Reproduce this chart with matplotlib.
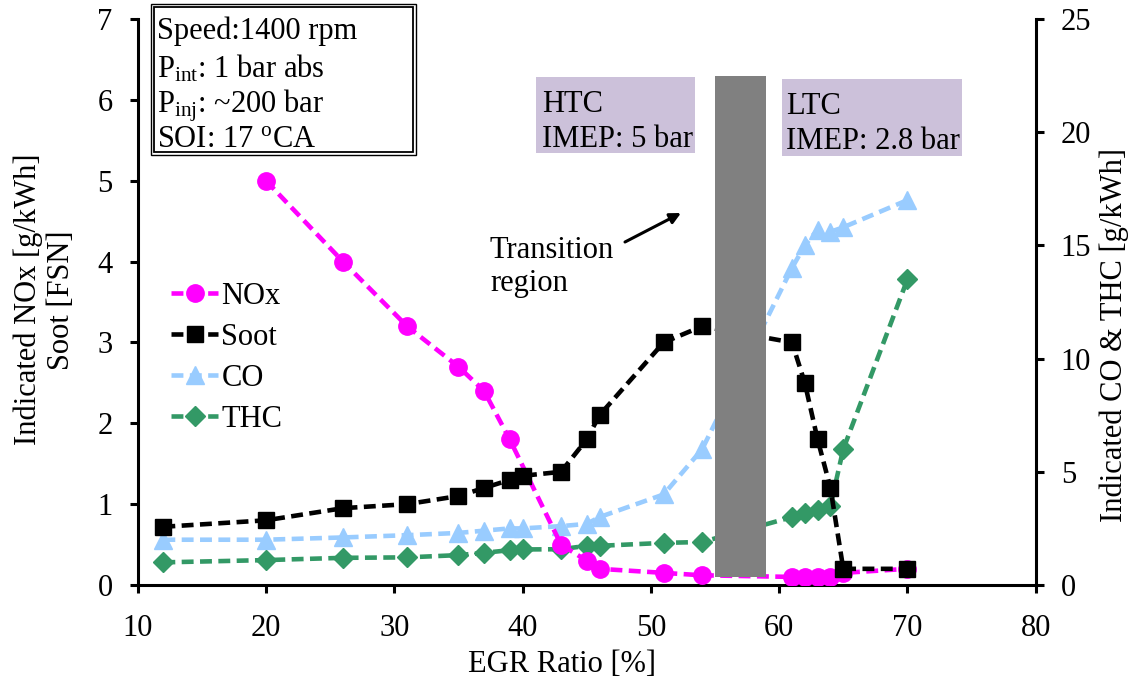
import matplotlib
matplotlib.use("Agg")
import matplotlib.pyplot as plt
from matplotlib.patches import Rectangle

plt.rcParams['font.family'] = ['Liberation Serif', 'DejaVu Serif']
plt.rcParams['mathtext.fontset'] = 'custom'
plt.rcParams['mathtext.rm'] = 'Liberation Serif'
plt.rcParams['mathtext.it'] = 'Liberation Serif:italic'
plt.rcParams['mathtext.bf'] = 'Liberation Serif:bold'

# ---------------- data ----------------
nox_x = [20, 26, 31, 35, 37, 39, 43, 45, 46, 51, 54, 61, 62, 63, 64, 65, 70]
nox_y = [5.0, 4.0, 3.2, 2.7, 2.4, 1.8, 0.5, 0.3, 0.2, 0.15, 0.12, 0.1, 0.1, 0.1, 0.1, 0.15, 0.2]

soot_x = [12, 20, 26, 31, 35, 37, 39, 40, 43, 45, 46, 51, 54, 61, 62, 63, 64, 65, 70]
soot_y = [0.72, 0.8, 0.95, 1.0, 1.1, 1.2, 1.3, 1.35, 1.4, 1.8, 2.1, 3.0, 3.2, 3.0, 2.5, 1.8, 1.2, 0.2, 0.2]

co_x = [12, 20, 26, 31, 35, 37, 39, 40, 43, 45, 46, 51, 54, 61, 62, 63, 64, 65, 70]
co_y = [2.0, 2.0, 2.1, 2.2, 2.3, 2.4, 2.5, 2.5, 2.6, 2.7, 3.0, 4.0, 6.0, 14.0, 15.0, 15.7, 15.6, 15.8, 17.0]

thc_x = [12, 20, 26, 31, 35, 37, 39, 40, 43, 45, 46, 51, 54, 61, 62, 63, 64, 65, 70]
thc_y = [1.0, 1.1, 1.2, 1.22, 1.32, 1.42, 1.54, 1.57, 1.58, 1.73, 1.73, 1.86, 1.9, 3.0, 3.2, 3.3, 3.5, 6.0, 13.5]

x_ticks = [10, 20, 30, 40, 50, 60, 70, 80]
left_ticks = [0, 1, 2, 3, 4, 5, 6, 7]
right_ticks = [0, 5, 10, 15, 20, 25]

transition_x = (55, 59)      # EGR range covered by transition band
transition_y = (0.1, 6.3)    # band extent on left axis

info_lines = ["Speed:1400 rpm",
              r"P$_{\mathrm{int}}$: 1 bar abs",
              r"P$_{\mathrm{inj}}$: ~200 bar",
              r"SOI: 17 $^{\mathrm{o}}$CA"]

# ---------------- figure ----------------
W, H = 1136, 681
fig = plt.figure(figsize=(W / 100, H / 100), dpi=100)

def fx(px):
    return px / W

def fy(py):
    return 1 - py / H

L, R, T, B = 137.7, 1035.7, 19, 585
ax = fig.add_axes([fx(L), fy(B), fx(R) - fx(L), fy(T) - fy(B)])
ax2 = ax.twinx()

FS = 22
lw = 3.3
dash = (2.6, 1.4)

MAG = '#FF00FF'
BLK = '#000000'
CO_C = '#99CCFF'
THC_C = '#339966'

l1, = ax.plot(nox_x, nox_y, color=MAG, lw=lw, ls=(0, dash), marker='o', ms=12.5, zorder=3)
l2, = ax.plot(soot_x, soot_y, color=BLK, lw=lw, ls=(0, dash), marker='s', ms=11.5, zorder=4)
l3, = ax2.plot(co_x, co_y, color=CO_C, lw=lw, ls=(0, dash), marker='^', ms=13.5, zorder=2)
l4, = ax2.plot(thc_x, thc_y, color=THC_C, lw=lw, ls=(0, dash), marker='D', ms=10.5, zorder=2)

ax.set_zorder(2)
ax.patch.set_visible(False)
ax2.set_zorder(1)

ax.set_xlim(10, 80)
ax.set_ylim(0, 7)
ax2.set_ylim(0, 25)
ax.set_xticks(x_ticks)
ax.set_yticks(left_ticks)
ax2.set_yticks(right_ticks)

for a in (ax, ax2):
    a.spines['top'].set_visible(False)
    for s in a.spines.values():
        s.set_linewidth(2.2)
ax.spines['right'].set_visible(False)
ax2.spines['left'].set_visible(False)
ax2.spines['bottom'].set_visible(False)

ax.tick_params(axis='x', direction='out', length=6, width=2.2, labelsize=FS, pad=15)
ax.tick_params(axis='y', direction='out', length=6, width=2.2, labelsize=FS, pad=12)
ax2.tick_params(axis='y', direction='out', length=6, width=2.2, labelsize=FS, pad=12)

# transition band (drawn above all lines)
band = Rectangle((transition_x[0], transition_y[0]),
                 transition_x[1] - transition_x[0], transition_y[1] - transition_y[0],
                 transform=ax.transData, facecolor='#808080', edgecolor='none', zorder=10)
ax.add_patch(band)

# HTC / LTC boxes
LAV = '#CCC1DA'
fig.patches.append(Rectangle((fx(536), fy(152.7)), fx(695) - fx(536), fy(76.7) - fy(152.7),
                             transform=fig.transFigure, facecolor=LAV, edgecolor='none', zorder=20))
fig.patches.append(Rectangle((fx(781.7), fy(155.7)), fx(961.7) - fx(781.7), fy(79) - fy(155.7),
                             transform=fig.transFigure, facecolor=LAV, edgecolor='none', zorder=20))
fig.text(fx(542), fy(112), "HTC", fontsize=FS, va='baseline', zorder=21)
fig.text(fx(542), fy(147), "IMEP: 5 bar", fontsize=FS, va='baseline', zorder=21)
fig.text(fx(786), fy(114), "LTC", fontsize=FS, va='baseline', zorder=21)
fig.text(fx(786), fy(149), "IMEP: 2.8 bar", fontsize=FS, va='baseline', zorder=21)

# Info box with double border
fig.patches.append(Rectangle((fx(150.7), fy(155)), fx(415.7) - fx(150.7), fy(4) - fy(155),
                             transform=fig.transFigure, facecolor='white', edgecolor='black',
                             lw=1.0, zorder=20))
fig.patches.append(Rectangle((fx(153.5), fy(152.3)), fx(412.7) - fx(153.5), fy(6.8) - fy(152.3),
                             transform=fig.transFigure, facecolor='none', edgecolor='black',
                             lw=1.3, zorder=21))
for line, base in zip(info_lines, [39, 77, 113, 147]):
    fig.text(fx(157), fy(base), line, fontsize=FS, va='baseline', zorder=22)

# Transition annotation
fig.text(fx(490), fy(258), "Transition", fontsize=FS, va='baseline')
fig.text(fx(490), fy(291), "region", fontsize=FS, va='baseline')
ax.annotate("", xy=(fx(681), fy(213)), xycoords='figure fraction',
            xytext=(fx(625), fy(242)), textcoords='figure fraction',
            arrowprops=dict(arrowstyle='-|>', color='black', lw=2.2, mutation_scale=16,
                            shrinkA=0, shrinkB=0))

# axis labels
fig.text(fx(562), fy(672), "EGR Ratio [%]", fontsize=FS, ha='center', va='baseline')
fig.text(fx(28), fy(299), "Indicated NOx [g/kWh]", fontsize=FS, rotation=90, ha='center', va='center')
fig.text(fx(62), fy(300), "Soot [FSN]", fontsize=FS, rotation=90, ha='center', va='center')
fig.text(fx(1114), fy(335), "Indicated CO & THC [g/kWh]", fontsize=FS, rotation=90, ha='center', va='center')

# legend
leg = fig.legend([l1, l2, l3, l4], ["NOx", "Soot", "CO", "THC"], loc='upper left',
                 bbox_to_anchor=(fx(171), fy(282)), frameon=False, fontsize=FS,
                 handlelength=1.55, handletextpad=0.1, labelspacing=0.39,
                 borderpad=0, borderaxespad=0)

fig.savefig("out.png", dpi=100)
